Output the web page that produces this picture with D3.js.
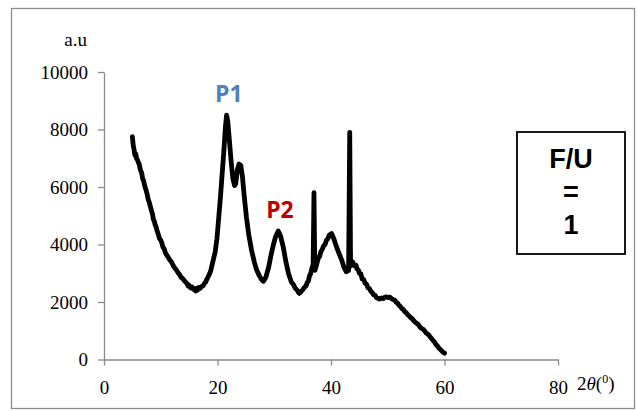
<!DOCTYPE html>
<html>
<head>
<meta charset="utf-8">
<script src="https://cdn.jsdelivr.net/npm/d3@7"></script>
<style>
  html, body { margin: 0; padding: 0; background: #fff; }
  svg { display: block; }
</style>
</head>
<body>
<svg id="chart" width="638" height="411"></svg>
<script>
// Diffraction pattern: 2θ (degrees) and measured intensity (a.u.)
const twoTheta = [
  5.0, 5.15, 5.3, 5.45, 5.6, 5.75, 5.9, 6.05, 6.2, 6.35, 6.5, 6.65, 6.8, 7.0, 7.2,
  7.4, 7.6, 7.8, 8.0, 8.2, 8.4, 8.55, 8.7, 8.85, 9.0, 9.2, 9.4, 9.6, 9.8, 10.0,
  10.2, 10.4, 10.6, 10.8, 11.0, 11.3, 11.6, 11.8, 12.0, 12.25, 12.5, 12.8, 13.1,
  13.35, 13.6, 13.85, 14.1, 14.35, 14.6, 14.8, 15.0, 15.25, 15.5, 15.75, 16.0,
  16.15, 16.3, 16.5, 16.7, 16.95, 17.2, 17.45, 17.7, 17.9, 18.1, 18.35, 18.6,
  18.8, 19.0, 19.3, 19.6, 19.9, 20.2, 20.5, 20.8, 21.1, 21.4, 21.6, 21.8, 22.1,
  22.4, 22.7, 23.0, 23.2, 23.5, 23.8, 24.1, 24.4, 24.7, 25.1, 25.5, 26.0, 26.5,
  26.9, 27.4, 27.8, 28.1, 28.5, 29.0, 29.4, 29.8, 30.2, 30.7, 31.1, 31.6, 32.0,
  32.5, 33.0, 33.4, 33.7, 34.0, 34.2, 34.4, 34.6, 34.8, 35.0, 35.2, 35.4, 35.6,
  35.8, 36.0, 36.2, 36.4, 36.6, 36.85, 37.0, 37.15, 37.4, 37.6, 37.8, 38.0, 38.2,
  38.45, 38.7, 38.95, 39.2, 39.45, 39.7, 40.1, 40.5, 41.0, 41.5, 41.9, 42.3, 42.7,
  43.1, 43.3, 43.45, 43.65, 43.8, 44.0, 44.2, 44.4, 44.6, 44.8, 45.0, 45.25, 45.5,
  45.75, 46.0, 46.25, 46.5, 46.75, 47.0, 47.25, 47.5, 47.75, 48.0, 48.3, 48.6,
  48.9, 49.2, 49.5, 49.8, 50.1, 50.4, 50.7, 51.0, 51.25, 51.5, 51.75, 52.0, 52.25,
  52.5, 52.75, 53.0, 53.25, 53.5, 53.75, 54.0, 54.25, 54.5, 54.75, 55.0, 55.25,
  55.5, 55.75, 56.0, 56.25, 56.5, 56.75, 57.0, 57.25, 57.5, 57.75, 58.0, 58.25,
  58.5, 58.75, 59.0, 59.25, 59.5, 59.75, 60.0
];
const intensity = [
  7750, 7450, 7300, 7100, 7150, 6980, 6950, 6850, 6800, 6640, 6550, 6480, 6300, 6200, 6020,
  5900, 5750, 5560, 5450, 5300, 5150, 5060, 4870, 4820, 4700, 4600, 4450, 4330, 4200, 4150,
  4050, 3900, 3850, 3720, 3650, 3560, 3460, 3420, 3350, 3250, 3180, 3100, 3000,
  2950, 2850, 2820, 2760, 2700, 2650, 2560, 2580, 2490, 2520, 2440, 2470,
  2380, 2460, 2420, 2500, 2470, 2540, 2560, 2650, 2690, 2780, 2880, 2980,
  3080, 3250, 3500, 3750, 4200, 4900, 5600, 6400, 7200, 8100, 8500, 8300, 7600,
  6900, 6300, 6050, 6100, 6600, 6800, 6750, 6350, 5700, 4950, 4350, 3800, 3380,
  3110, 2900, 2770, 2720, 2850, 3200, 3600, 3950, 4250, 4470, 4300, 3900, 3450,
  3000, 2700, 2600, 2480, 2420, 2350, 2300, 2330, 2380, 2420, 2480, 2520, 2560,
  2680, 2720, 2900, 2980, 3150, 3300, 5800, 3100, 3250, 3400, 3550, 3580, 3750,
  3830, 3950, 4000, 4150, 4200, 4330, 4380, 4200, 3900, 3650, 3450, 3200, 3050,
  3100, 7900, 3250, 3350, 3400, 3300, 3250, 3280, 3150, 3120, 3000, 2980, 2800,
  2790, 2650, 2620, 2500, 2470, 2380, 2330, 2250, 2240, 2150, 2130, 2100,
  2140, 2120, 2170, 2180, 2150, 2170, 2110, 2080, 2060, 1980, 1960, 1880, 1840,
  1770, 1740, 1660, 1630, 1560, 1520, 1460, 1430, 1370, 1310, 1270, 1240,
  1180, 1110, 1080, 1050, 990, 930, 890, 850, 780, 720, 660, 600,
  520, 470, 400, 350, 300, 250, 220
];
const xTicks = [0, 20, 40, 60, 80];
const yTicks = [0, 2000, 4000, 6000, 8000, 10000];
const peakLabels = [
  { text: "P1", x: 22.0, y: 8950, color: "#4F81BD" },
  { text: "P2", x: 31.0, y: 4930, color: "#C00000" }
];
const ratioLines = ["F/U", "=", "1"];

const svg = d3.select("#chart");

// outer chart frame
svg.append("rect")
  .attr("x", 11.5).attr("y", 8.5)
  .attr("width", 623).attr("height", 400)
  .attr("fill", "#fff")
  .attr("stroke", "#8c8c8c")
  .attr("stroke-width", 1.3);

const x = d3.scaleLinear().domain([0, 80]).range([104, 558]);
const y = d3.scaleLinear().domain([0, 10000]).range([359.5, 72]);

const serif = "'Liberation Serif', 'DejaVu Serif', serif";
const axisColor = "#8a8a8a";

const yAxis = svg.append("g")
  .attr("transform", "translate(104,0)")
  .call(d3.axisLeft(y).tickValues(yTicks).tickFormat(d3.format("d"))
    .tickSize(6).tickSizeOuter(0).tickPadding(10));

const xAxis = svg.append("g")
  .attr("transform", "translate(0,359.5)")
  .call(d3.axisBottom(x).tickValues(xTicks).tickFormat(d3.format("d"))
    .tickSize(6).tickSizeOuter(0).tickPadding(15));

[xAxis, yAxis].forEach(g => {
  g.select(".domain").attr("stroke", axisColor).attr("stroke-width", 1.3);
  g.selectAll(".tick line").attr("stroke", axisColor).attr("stroke-width", 1.3);
  g.selectAll(".tick text")
    .attr("fill", "#000")
    .style("font-family", serif)
    .style("font-size", "19px");
});

// axis titles
svg.append("text")
  .attr("x", 87).attr("y", 46)
  .attr("text-anchor", "end")
  .style("font-family", serif).style("font-size", "19px")
  .text("a.u");

const xt = svg.append("text")
  .attr("x", 577).attr("y", 390)
  .style("font-family", serif).style("font-size", "19px");
xt.append("tspan").text("2");
xt.append("tspan").style("font-style", "italic").text("θ");
xt.append("tspan").text("(");
xt.append("tspan").attr("dy", -7).style("font-size", "12px").text("0");
xt.append("tspan").attr("dy", 7).text(")");

// diffraction curve
const pts = twoTheta.map((t, i) => [t, intensity[i]]);
svg.append("path")
  .datum(pts)
  .attr("fill", "none")
  .attr("stroke", "#000")
  .attr("stroke-width", 4.8)
  .attr("stroke-linejoin", "round")
  .attr("stroke-linecap", "round")
  .attr("d", d3.line().x(d => x(d[0])).y(d => y(d[1])));

// peak labels
svg.selectAll("text.peak")
  .data(peakLabels)
  .join("text")
  .attr("class", "peak")
  .attr("x", d => x(d.x))
  .attr("y", d => y(d.y))
  .attr("text-anchor", "middle")
  .attr("fill", d => d.color)
  .style("font-family", "'Open Sans', 'Liberation Sans', sans-serif")
  .style("font-weight", "bold")
  .style("font-size", "23px")
  .text(d => d.text);

// ratio box
svg.append("rect")
  .attr("x", 517).attr("y", 132)
  .attr("width", 108).attr("height", 122)
  .attr("fill", "#fff")
  .attr("stroke", "#000")
  .attr("stroke-width", 1.8);

svg.selectAll("text.ratio")
  .data(ratioLines)
  .join("text")
  .attr("class", "ratio")
  .attr("x", 571)
  .attr("y", (d, i) => 168 + i * 33)
  .attr("text-anchor", "middle")
  .style("font-family", "'Liberation Sans', Arial, sans-serif")
  .style("font-weight", "bold")
  .style("font-size", "27px")
  .text(d => d);
</script>
</body>
</html>
